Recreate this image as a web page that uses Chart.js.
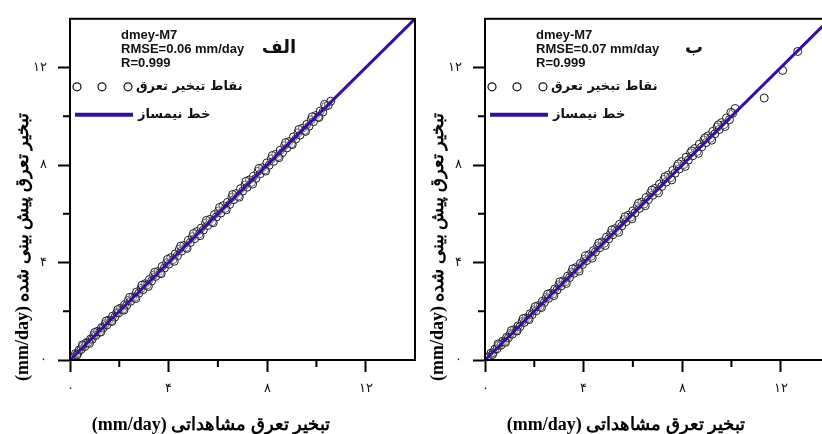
<!DOCTYPE html>
<html>
<head>
<meta charset="utf-8">
<script src="https://cdn.jsdelivr.net/npm/chart.js@4.4.0/dist/chart.umd.min.js"></script>
<style>
  html, body { margin: 0; padding: 0; background: #fff; }
  body { width: 822px; height: 434px; overflow: hidden; position: relative; }
  .panel { position: absolute; top: 0; width: 420px; height: 434px; }
</style>
</head>
<body>
<div class="panel" style="left:0"><canvas id="chartA" width="420" height="434"></canvas></div>
<div class="panel" style="left:415px"><canvas id="chartB" width="420" height="434"></canvas></div>
<script>
const leftObserved = [0.08,0.15,0.22,0.31,0.37,0.45,0.52,0.60,0.66,0.74,0.83,0.90,0.97,1.05,1.12,1.20,1.28,1.35,1.43,1.50,1.58,1.66,1.73,1.82,1.90,1.97,2.05,2.14,2.22,2.30,2.37,2.46,2.55,2.63,2.70,2.79,2.88,2.96,3.05,3.13,3.22,3.31,3.39,3.48,3.57,3.66,3.74,3.83,3.92,4.01,4.09,4.18,4.27,4.36,4.44,4.53,4.62,4.71,4.80,4.88,4.97,5.06,5.15,5.24,5.32,5.41,5.50,5.59,5.68,5.77,5.86,5.94,6.03,6.12,6.21,6.30,6.39,6.48,6.57,6.65,6.74,6.83,6.92,7.01,7.10,7.19,7.28,7.37,7.45,7.54,7.63,7.72,7.81,7.90,7.99,8.08,8.17,8.26,8.35,8.44,8.53,8.62,8.71,8.80,8.89,8.98,9.07,9.16,9.25,9.34,9.43,9.52,9.61,9.70,9.79,9.88,9.97,10.07,10.16,10.26,10.37,10.48,10.58,
  0.28,0.50,0.79,1.00,1.25,1.47,1.70,1.94,2.19,2.42,2.67,2.92,3.18,3.44,3.70,3.96,4.23,4.49,4.75,5.01,5.28,5.54,5.81,6.07,6.34,6.60,6.87,7.14,7.41,7.67,7.94,8.21,8.48,8.75,9.02,9.29,9.56,9.83,10.10,10.33];
const leftPredicted = [0.10,0.12,0.26,0.27,0.41,0.43,0.57,0.55,0.71,0.72,0.86,0.85,1.03,1.01,1.18,1.14,1.33,1.32,1.49,1.44,1.64,1.61,1.80,1.76,1.95,1.93,2.13,2.08,2.27,2.24,2.45,2.41,2.60,2.57,2.79,2.74,2.94,2.89,3.13,3.08,3.30,3.24,3.48,3.43,3.63,3.58,3.84,3.77,3.99,3.93,4.20,4.12,4.35,4.28,4.55,4.47,4.70,4.62,4.91,4.82,5.06,4.98,5.27,5.17,5.41,5.33,5.62,5.52,5.77,5.68,5.97,5.87,6.12,6.03,6.33,6.22,6.47,6.38,6.68,6.58,6.83,6.73,7.03,6.93,7.18,7.09,7.39,7.29,7.54,7.45,7.74,7.64,7.89,7.80,8.09,7.99,8.25,8.15,8.44,8.35,8.61,8.51,8.80,8.70,8.96,8.87,9.16,9.06,9.32,9.23,9.51,9.42,9.67,9.59,9.86,9.78,10.03,9.98,10.22,10.17,10.41,10.45,10.62,
  0.20,0.62,0.68,1.13,1.15,1.60,1.58,2.07,2.05,2.57,2.52,3.07,3.02,3.60,3.54,4.13,4.05,4.67,4.58,5.19,5.10,5.73,5.63,6.26,6.16,6.79,6.68,7.33,7.22,7.86,7.75,8.39,8.30,8.92,8.84,9.46,9.38,9.98,9.95,10.49];

const rightObserved = [0.09,0.17,0.24,0.33,0.40,0.49,0.56,0.64,0.72,0.80,0.88,0.95,1.03,1.11,1.19,1.27,1.34,1.42,1.51,1.59,1.66,1.75,1.83,1.91,1.99,2.08,2.16,2.24,2.33,2.41,2.49,2.58,2.66,2.75,2.83,2.92,3.00,3.09,3.17,3.26,3.35,3.43,3.52,3.61,3.69,3.78,3.87,3.96,4.04,4.13,4.22,4.31,4.40,4.48,4.57,4.66,4.75,4.84,4.93,5.02,5.10,5.19,5.28,5.37,5.46,5.55,5.64,5.73,5.82,5.91,6.00,6.09,6.18,6.27,6.36,6.45,6.54,6.63,6.72,6.81,6.90,6.99,7.08,7.17,7.26,7.35,7.44,7.53,7.62,7.71,7.80,7.89,7.98,8.07,8.16,8.25,8.34,8.43,8.52,8.61,8.70,8.79,8.88,8.97,9.06,9.15,9.24,9.33,9.42,9.51,9.60,9.70,9.80,9.92,10.05,10.15,11.33,12.08,12.69,
  0.30,0.53,0.83,1.07,1.30,1.55,1.79,2.04,2.29,2.54,2.79,3.04,3.30,3.56,3.82,4.08,4.35,4.62,4.88,5.15,5.42,5.69,5.96,6.23,6.50,6.77,7.04,7.31,7.58,7.85,8.12,8.39,8.66,8.93,9.20,9.47,9.74,9.98];
const rightPredicted = [0.11,0.14,0.28,0.30,0.45,0.46,0.61,0.60,0.77,0.76,0.93,0.91,1.09,1.06,1.25,1.22,1.40,1.37,1.58,1.54,1.73,1.70,1.90,1.86,2.06,2.02,2.23,2.19,2.41,2.36,2.57,2.53,2.74,2.70,2.91,2.87,3.09,3.04,3.25,3.21,3.44,3.38,3.61,3.56,3.79,3.73,3.96,3.92,4.14,4.08,4.32,4.26,4.49,4.43,4.68,4.61,4.85,4.79,5.04,4.97,5.20,5.14,5.39,5.32,5.57,5.50,5.76,5.68,5.94,5.86,6.12,6.04,6.31,6.22,6.48,6.40,6.67,6.58,6.85,6.76,7.04,6.94,7.22,7.12,7.41,7.30,7.59,7.48,7.78,7.66,7.96,7.84,8.14,8.02,8.32,8.20,8.50,8.38,8.68,8.56,8.86,8.74,9.03,8.92,9.20,9.10,9.38,9.28,9.56,9.46,9.74,9.66,9.93,9.86,10.12,10.32,10.75,11.88,12.66,
  0.22,0.66,0.72,1.21,1.19,1.70,1.66,2.19,2.15,2.70,2.64,3.21,3.14,3.74,3.65,4.27,4.18,4.80,4.70,5.34,5.24,5.88,5.79,6.43,6.33,6.97,6.86,7.52,7.39,8.05,7.94,8.58,8.48,9.12,9.02,9.65,9.58,10.16];

// 1:1 line
const bisectorX = [0, 14];
const bisectorY = [0, 14];

const tickValues = [0, 4, 8, 12];
const tickLabels = ['۰', '۴', '۸', '۱۲'];
const minorTickValues = [2, 6, 10];

const leftStats = ['dmey-M7', 'RMSE=0.06 mm/day', 'R=0.999'];
const rightStats = ['dmey-M7', 'RMSE=0.07 mm/day', 'R=0.999'];

const pointsLabel = 'نقاط تبخیر تعرق';
const lineLabel = 'خط نیمساز';
const xTitle = 'تبخیر تعرق مشاهداتی (mm/day)';
const yTitle = 'تبخیر تعرق پیش بینی شده (mm/day)';

const lineColor = '#3a0ca6';
const serif = '"Liberation Serif", "Times New Roman", "DejaVu Serif", serif';

// frame, minor ticks, stats text, hand drawn legend, axis titles
const panelDecor = {
  id: 'panelDecor',
  afterDraw(chart, args, opts) {
    const { ctx, chartArea: ca, scales } = chart;
    ctx.save();
    ctx.strokeStyle = '#000';
    ctx.lineWidth = 2;
    ctx.strokeRect(ca.left, ca.top, ca.right - ca.left, ca.bottom - ca.top);

    ctx.beginPath();
    minorTickValues.forEach(v => {
      const px = scales.x.getPixelForValue(v);
      ctx.moveTo(px, ca.bottom);
      ctx.lineTo(px, ca.bottom + 7);
      const py = scales.y.getPixelForValue(v);
      ctx.moveTo(ca.left, py);
      ctx.lineTo(ca.left - 7, py);
    });
    ctx.stroke();

    ctx.fillStyle = '#111';
    ctx.textBaseline = 'middle';
    ctx.textAlign = 'left';
    ctx.font = 'bold 13px "Liberation Sans", Arial, sans-serif';
    opts.stats.forEach((s, i) => ctx.fillText(s, ca.left + 51, ca.top + 17 + i * 14));

    ctx.direction = 'rtl';
    ctx.textAlign = 'center';
    ctx.font = 'bold 18px "DejaVu Sans", sans-serif';
    ctx.fillText(opts.label, ca.left + 209, ca.top + 30);

    // legend row 1: three circles + text
    ctx.lineWidth = 1.2;
    ctx.strokeStyle = '#111';
    [7, 32, 58].forEach(dx => {
      ctx.beginPath();
      ctx.arc(ca.left + dx, ca.top + 68, 4, 0, Math.PI * 2);
      ctx.stroke();
    });
    ctx.textAlign = 'left';
    ctx.font = 'bold 13px "DejaVu Sans", sans-serif';
    ctx.fillText(pointsLabel, ca.left + 66, ca.top + 68);

    // legend row 2: line + text
    ctx.strokeStyle = lineColor;
    ctx.lineWidth = 4;
    ctx.beginPath();
    ctx.moveTo(ca.left + 5, ca.top + 96);
    ctx.lineTo(ca.left + 63, ca.top + 96);
    ctx.stroke();
    ctx.fillText(lineLabel, ca.left + 68, ca.top + 96);

    // axis titles
    ctx.fillStyle = '#000';
    ctx.textAlign = 'center';
    ctx.font = 'bold 18px ' + serif;
    ctx.fillText(xTitle, ca.left + 141, ca.bottom + 65);
    ctx.translate(23, ca.top + 228);
    ctx.rotate(-Math.PI / 2);
    ctx.fillText(yTitle, 0, 0);
    ctx.restore();
  }
};

function makeAxis(isX) {
  return {
    type: 'linear',
    min: 0,
    max: 14,
    border: { display: true, color: '#000', width: 2 },
    grid: { drawOnChartArea: false, drawTicks: true, tickLength: 12, tickWidth: 2, tickColor: '#000' },
    ticks: {
      stepSize: 4,
      includeBounds: false,
      padding: isX ? 9 : 11,
      color: '#111',
      font: { family: serif, size: 13 },
      callback: v => {
        const i = tickValues.indexOf(v);
        return i >= 0 ? tickLabels[i] : '';
      }
    },
    afterFit: scale => {
      if (isX) scale.height = 74; else scale.width = 70;
    }
  };
}

function makeChart(id, observed, predicted, stats, label) {
  const points = observed.map((v, i) => ({ x: v, y: predicted[i] }));
  const bisector = bisectorX.map((v, i) => ({ x: v, y: bisectorY[i] }));
  return new Chart(document.getElementById(id), {
    type: 'scatter',
    data: {
      datasets: [
        {
          type: 'line',
          label: lineLabel,
          data: bisector,
          borderColor: lineColor,
          borderWidth: 3,
          pointRadius: 0,
          fill: false
        },
        {
          label: pointsLabel,
          data: points,
          pointRadius: 4,
          pointBorderWidth: 1,
          pointBorderColor: '#1b1b1b',
          pointBackgroundColor: 'rgba(255,255,255,0.3)'
        }
      ]
    },
    options: {
      responsive: false,
      animation: false,
      devicePixelRatio: 1,
      layout: { padding: { top: 14, right: 3, left: 0, bottom: 0 } },
      scales: { x: makeAxis(true), y: makeAxis(false) },
      plugins: {
        legend: { display: false },
        tooltip: { enabled: false },
        panelDecor: { stats: stats, label: label }
      }
    },
    plugins: [panelDecor]
  });
}

makeChart('chartA', leftObserved, leftPredicted, leftStats, 'الف');
makeChart('chartB', rightObserved, rightPredicted, rightStats, 'ب');
</script>
</body>
</html>
